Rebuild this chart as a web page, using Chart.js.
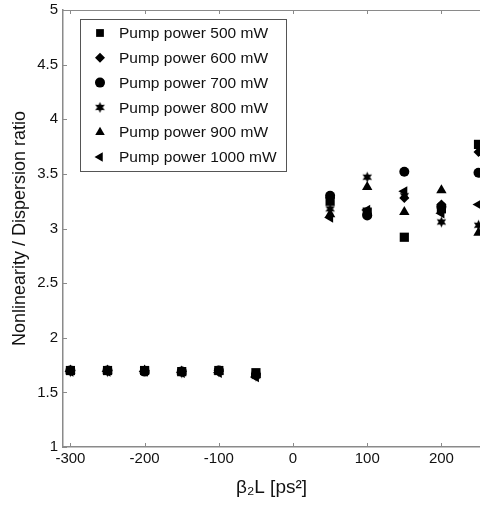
<!DOCTYPE html>
<html><head><meta charset="utf-8">
<script src="https://cdn.jsdelivr.net/npm/chart.js@4.4.0/dist/chart.umd.min.js"></script>
<style>html,body{margin:0;padding:0;background:#fff;overflow:hidden}</style>
</head><body>
<canvas id="c" width="480" height="506"></canvas>
<script>
// ---- data ----
const xValues = [-300, -250, -200, -150, -100, -50, 50, 100, 150, 200, 250];
const pump500  = [1.70, 1.70, 1.70, 1.69, 1.70, 1.68, 3.25, 3.15, 2.92, 3.18, 3.77];
const pump600  = [1.70, 1.70, 1.70, 1.69, 1.69, 1.67, 3.28, 3.13, 3.28, 3.22, 3.70];
const pump700  = [1.70, 1.70, 1.69, 1.69, 1.70, 1.66, 3.30, 3.12, 3.52, 3.20, 3.51];
const pump800  = [1.69, 1.69, 1.70, 1.68, 1.69, 1.65, 3.18, 3.47, 3.30, 3.06, 3.03];
const pump900  = [1.70, 1.70, 1.70, 1.69, 1.69, 1.66, 3.13, 3.38, 3.15, 3.35, 2.96];
const pump1000 = [1.69, 1.69, 1.69, 1.68, 1.68, 1.64, 3.10, 3.17, 3.34, 3.14, 3.22];
const seriesLabels = ['Pump power 500 mW', 'Pump power 600 mW', 'Pump power 700 mW',
                      'Pump power 800 mW', 'Pump power 900 mW', 'Pump power 1000 mW'];
const xTicks = [-300, -200, -100, 0, 100, 200];
const yTicks = [1, 1.5, 2, 2.5, 3, 3.5, 4, 4.5, 5];
const xTitle = 'β₂L [ps²]';
const yTitle = 'Nonlinearity / Dispersion ratio';

// ---- styles ----
const FONT = "'Liberation Sans', Arial, sans-serif";
const AXIS = '#8a8a8a';

function makeStar(r) {
  const s = Math.ceil(r * 2) + 2;
  const c = document.createElement('canvas');
  c.width = c.height = s;
  const g = c.getContext('2d');
  g.fillStyle = '#000';
  g.beginPath();
  for (let k = 0; k < 12; k++) {
    const a = -Math.PI / 2 + k * Math.PI / 6;
    const rr = k % 2 ? r * 0.5 : r;
    g.lineTo(s / 2 + rr * Math.cos(a), s / 2 + rr * Math.sin(a));
  }
  g.closePath();
  g.fill();
  return c;
}
const starImg = makeStar(5.5);

const seriesValues = [pump500, pump600, pump700, pump800, pump900, pump1000];
const markerStyles = [
  {pointStyle: 'rect', pointRadius: 6.5, pointRotation: 0},
  {pointStyle: 'rectRot', pointRadius: 5, pointRotation: 0},
  {pointStyle: 'circle', pointRadius: 5, pointRotation: 0},
  {pointStyle: starImg, pointRadius: 5.5, pointRotation: 0},
  {pointStyle: 'triangle', pointRadius: 6, pointRotation: 0},
  {pointStyle: 'triangle', pointRadius: 6, pointRotation: -90}
];

const datasets = seriesValues.map((vals, i) => Object.assign({
  label: seriesLabels[i],
  data: xValues.map((x, j) => ({x: x, y: vals[j]})),
  backgroundColor: '#000',
  borderColor: '#000',
  borderWidth: 0,
  pointBorderWidth: 0,
  pointHoverRadius: 6,
  clip: false
}, markerStyles[i]));

const frameTicks = {
  id: 'frameTicks',
  afterDraw(chart) {
    const ctx = chart.ctx, a = chart.chartArea;
    const xs = chart.scales.x, ys = chart.scales.y;
    ctx.save();
    ctx.strokeStyle = AXIS;
    ctx.lineWidth = 1;
    ctx.beginPath();
    ctx.moveTo(a.left, a.top + 0.5); ctx.lineTo(a.right, a.top + 0.5);
    xTicks.forEach(v => {
      const px = Math.round(xs.getPixelForValue(v)) + 0.5;
      ctx.moveTo(px, a.bottom); ctx.lineTo(px, a.bottom - 4);
      ctx.moveTo(px, a.top); ctx.lineTo(px, a.top + 4);
    });
    yTicks.forEach(v => {
      const py = Math.round(ys.getPixelForValue(v)) + 0.5;
      ctx.moveTo(a.left, py); ctx.lineTo(a.left + 4, py);
    });
    ctx.stroke();
    ctx.restore();
  }
};

const boxLegend = {
  id: 'boxLegend',
  afterDraw(chart) {
    const ctx = chart.ctx;
    const bx = 80, by = 19, bw = 206, bh = 152, rowH = 24.8;
    ctx.save();
    ctx.fillStyle = '#fff';
    ctx.fillRect(bx, by, bw, bh);
    ctx.strokeStyle = '#555';
    ctx.lineWidth = 1;
    ctx.strokeRect(bx + 0.5, by + 0.5, bw, bh);
    chart.data.datasets.forEach((ds, i) => {
      const cy = by + 14 + i * rowH;
      ctx.fillStyle = '#000';
      ctx.strokeStyle = '#000';
      Chart.helpers.drawPoint(ctx, {
        pointStyle: ds.pointStyle,
        rotation: ds.pointRotation || 0,
        radius: Math.min(ds.pointRadius, 5.5),
        borderWidth: 0
      }, bx + 20, cy);
      ctx.fillStyle = '#111';
      ctx.font = '15.5px ' + FONT;
      ctx.textBaseline = 'middle';
      ctx.textAlign = 'left';
      ctx.fillText(ds.label, bx + 39, cy + 1);
    });
    ctx.restore();
  }
};

new Chart(document.getElementById('c'), {
  type: 'scatter',
  data: {datasets: datasets},
  options: {
    responsive: false,
    animation: false,
    events: [],
    layout: {autoPadding: false, padding: {top: 10, right: 0, left: 0, bottom: 0}},
    plugins: {legend: {display: false}, tooltip: {enabled: false}},
    scales: {
      x: {
        type: 'linear',
        min: -310, max: 252,
        afterBuildTicks: s => { s.ticks = xTicks.map(v => ({value: v})); },
        afterFit: s => { s.height = 59; s.paddingLeft = 0; s.paddingRight = 0; },
        grid: {display: true, drawOnChartArea: false, drawTicks: false},
        border: {display: true, color: AXIS, width: 1.5},
        ticks: {color: '#111', font: {family: FONT, size: 15}, padding: 3, maxRotation: 0, autoSkip: false,
                callback: v => String(v)},
        title: {display: true, text: xTitle, color: '#111', font: {family: FONT, size: 19}, padding: {top: 2, bottom: 7}}
      },
      y: {
        type: 'linear',
        min: 1, max: 5,
        afterBuildTicks: s => { s.ticks = yTicks.map(v => ({value: v})); },
        afterFit: s => { s.width = 63; s.paddingTop = 0; s.paddingBottom = 0; },
        grid: {display: true, drawOnChartArea: false, drawTicks: false},
        border: {display: true, color: AXIS, width: 1.5},
        ticks: {color: '#111', font: {family: FONT, size: 15}, padding: 5, autoSkip: false,
                callback: v => String(v)},
        title: {display: true, text: yTitle, color: '#111', font: {family: FONT, size: 18}, padding: {top: 9, bottom: 0}}
      }
    }
  },
  plugins: [frameTicks, boxLegend]
});
</script>
</body></html>
